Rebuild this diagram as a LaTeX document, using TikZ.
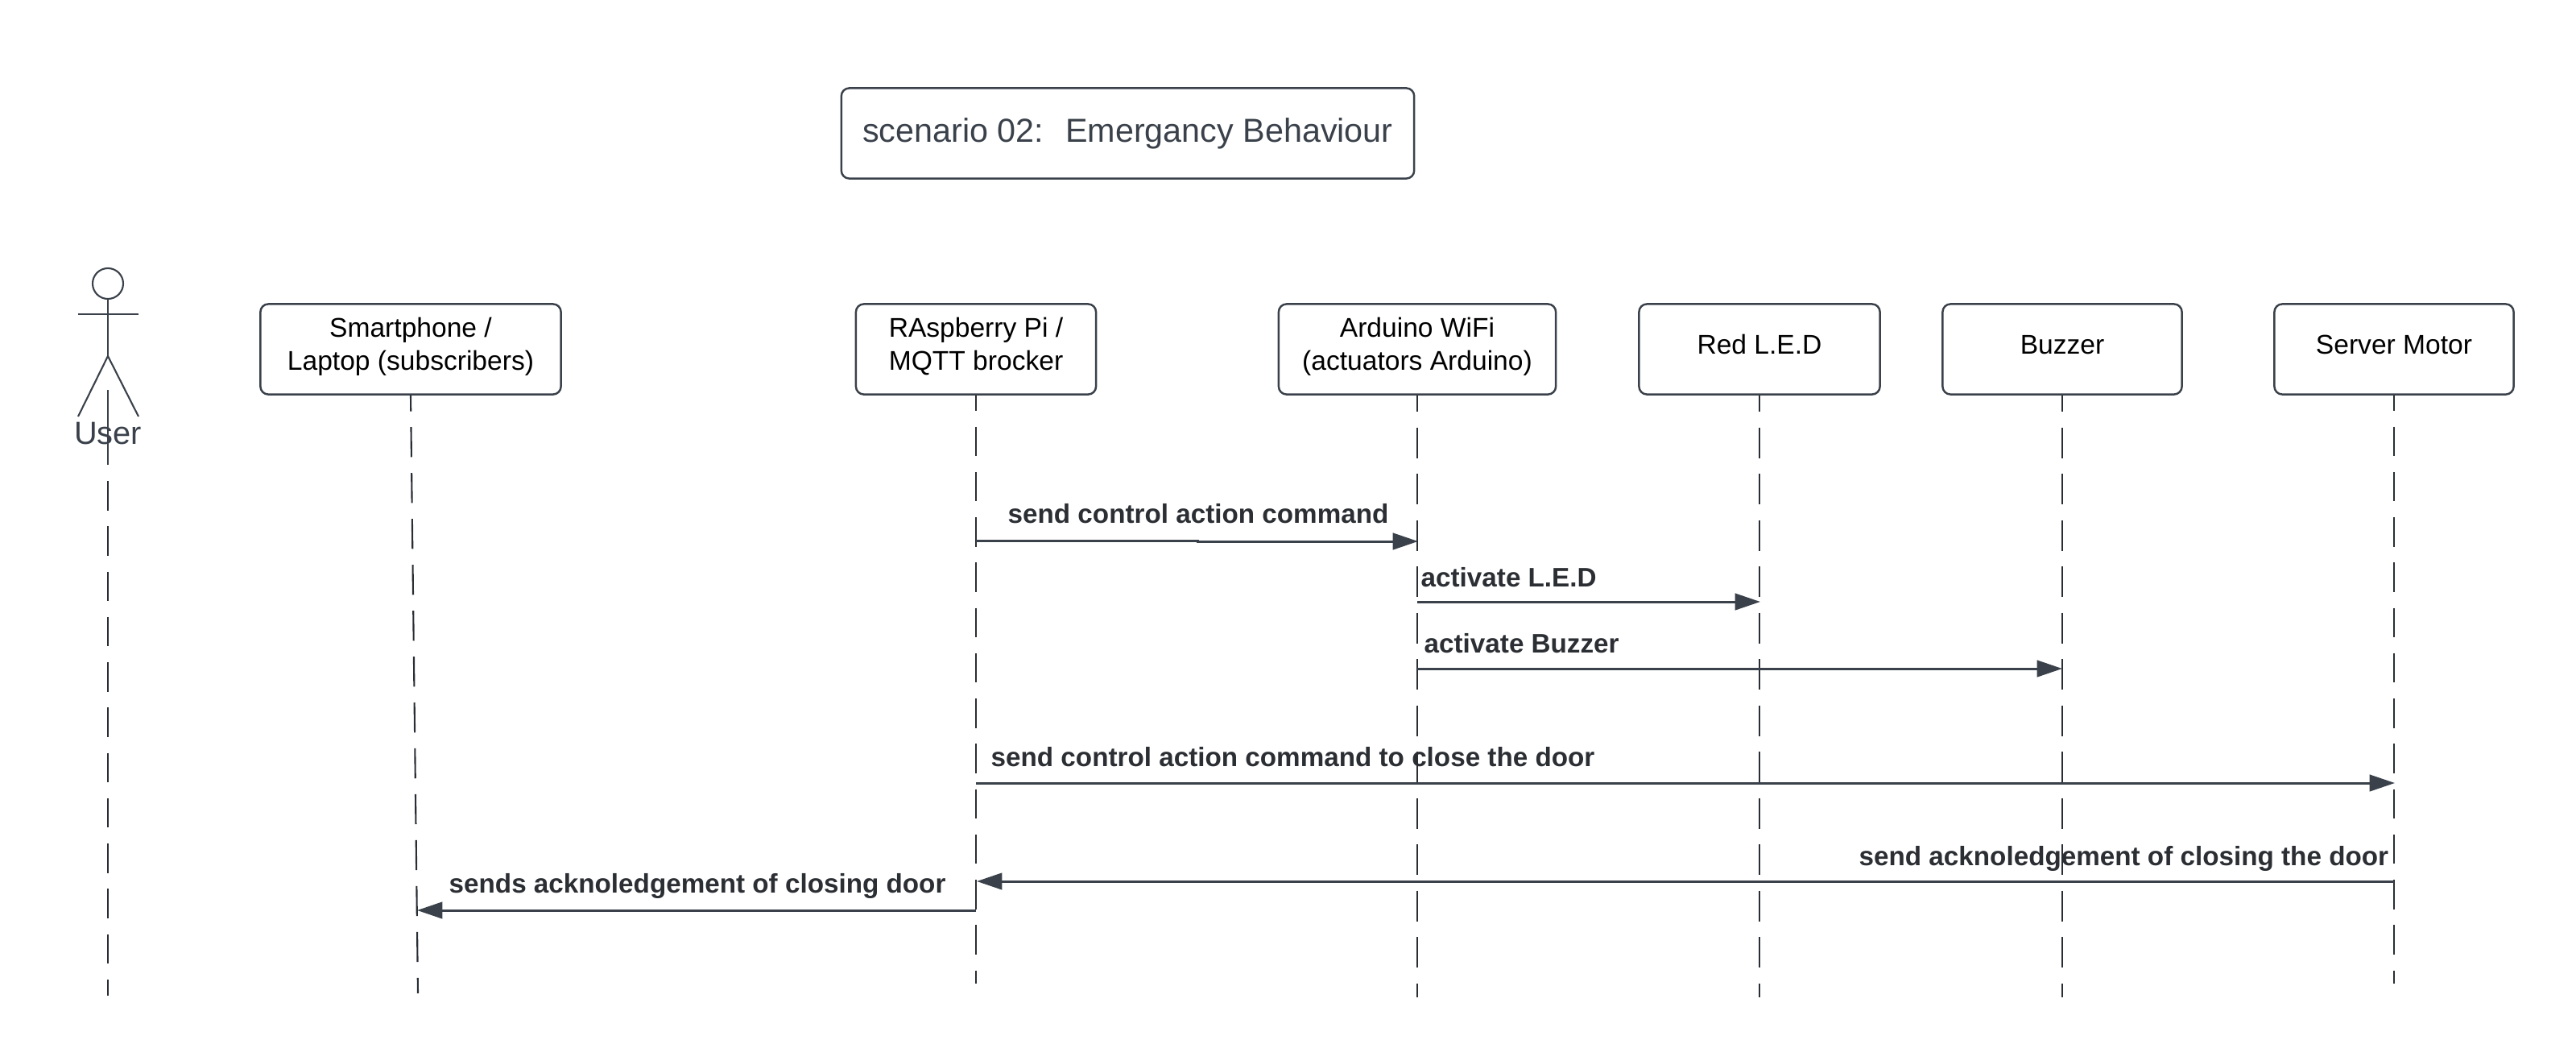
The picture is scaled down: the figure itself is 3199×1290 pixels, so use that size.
\documentclass[tikz,border=0pt]{standalone}
\usepackage{fontspec}
\setmainfont{Liberation Sans}
\usetikzlibrary{arrows.meta}
\definecolor{umlgray}{HTML}{3A414A}
\definecolor{labelgray}{HTML}{2B2E33}
\tikzset{
  lifebox/.style={draw=umlgray, line width=0.7pt, rounded corners=2.8pt, inner sep=0pt, minimum height=1.12cm,
    text height=17.6pt, text depth=14.3pt, align=center, font=\fontsize{9.55}{11.66}\selectfont},
  lifeline/.style={draw=umlgray!70!black, line width=0.6pt, dash pattern=on #1 off 5.6pt, dash phase=5pt},
  lifeline/.default=10.75pt,
  msg/.style={draw=umlgray, line width=0.85pt, -{Triangle[length=8.9pt,width=5.8pt]}},
  msglabel/.style={anchor=base west, inner sep=0pt, text=labelgray, font=\fontsize{9.45}{11.66}\bfseries\selectfont}
}
\begin{document}
\begin{tikzpicture}[x=0.01cm,y=-0.01cm]
  \useasboundingbox (0,0) rectangle (3199,1290);
  % Title
  \node[lifebox, minimum width=7.11cm, text=umlgray, text height=19pt, text depth=12.9pt,
    font=\fontsize{11.75}{14}\selectfont] (title) at (1400.5,165.5) {scenario 02:~ Emergancy Behaviour};
  % Actor
  \node[circle, draw=umlgray, line width=0.6pt, inner sep=0pt, minimum size=0.38cm] (userhead) at (134,352) {};
  \coordinate (shoulderL) at (97,390);
  \coordinate (shoulderR) at (172,390);
  \coordinate (hip) at (134,442);
  \coordinate (footL) at (97,517);
  \coordinate (footR) at (172,517);
  \draw[umlgray, line width=0.6pt] (userhead.south) -- (hip);
  \draw[umlgray, line width=0.6pt] (shoulderL) -- (shoulderR);
  \draw[umlgray, line width=0.6pt] (footL) -- (hip) -- (footR);
  \node[anchor=base, inner sep=0pt, text=umlgray, font=\fontsize{11.3}{13}\selectfont] (user) at (134,551) {User};
  % Boxes
  \node[lifebox, minimum width=3.73cm, text height=23.4pt, text depth=8.5pt] (phone) at (510,433.5) {Smartphone /\\Laptop (subscribers)};
  \node[lifebox, minimum width=2.98cm, text height=23.4pt, text depth=8.5pt] (pi) at (1212,433.5) {RAspberry Pi /\\MQTT brocker};
  \node[lifebox, minimum width=3.44cm, text height=23.4pt, text depth=8.5pt] (arduino) at (1760,433.5) {Arduino WiFi\\(actuators Arduino)};
  \node[lifebox, minimum width=2.99cm] (led) at (2185,433.5) {Red L.E.D};
  \node[lifebox, minimum width=2.97cm] (buzzer) at (2561,433.5) {Buzzer};
  \node[lifebox, minimum width=2.97cm] (servo) at (2973,433.5) {Server Motor};
  % Lifelines
  \coordinate (userTop) at (134,484);
  \coordinate (userGap) at (134,577);
  \coordinate (userMid) at (134,597);
  \coordinate (userEnd) at (134,1236);
  \coordinate (phoneEnd) at (519,1233);
  \coordinate (piEnd) at (1212,1221);
  \coordinate (arduinoEnd) at (1760,1238);
  \coordinate (ledEnd) at (2185,1238);
  \coordinate (buzzerEnd) at (2561,1238);
  \coordinate (servoEnd) at (2973,1221);
  \draw[umlgray, line width=0.6pt] (userTop) -- (userGap);
  \draw[lifeline=10.4pt, dash phase=0pt] (userMid) -- (userEnd);
  \draw[lifeline=10.6pt] (phone.south) -- (phoneEnd);
  \draw[lifeline=10.4pt] (pi.south) -- (piEnd);
  \draw[lifeline] (arduino.south) -- (arduinoEnd);
  \draw[lifeline] (led.south) -- (ledEnd);
  \draw[lifeline] (buzzer.south) -- (buzzerEnd);
  \draw[lifeline=10.4pt] (servo.south) -- (servoEnd);
  % Messages
  \coordinate (m1a) at (1212,671);
  \coordinate (m1b) at (1487,671);
  \coordinate (m1c) at (1487,672);
  \coordinate (m1d) at (1761,672);
  \draw[msg] (m1a) -- (m1b) -- (m1c) -- (m1d);
  \node[msglabel] (m1) at (1251,649) {send control action command};
  \coordinate (m2a) at (1760,747);
  \coordinate (m2b) at (2186,747);
  \draw[msg] (m2a) -- (m2b);
  \node[msglabel] (m2) at (1764,728) {activate L.E.D};
  \coordinate (m3a) at (1760,830);
  \coordinate (m3b) at (2561,830);
  \draw[msg] (m3a) -- (m3b);
  \node[msglabel] (m3) at (1768,810) {activate Buzzer};
  \coordinate (m4a) at (1212,972);
  \coordinate (m4b) at (2974,972);
  \draw[msg] (m4a) -- (m4b);
  \node[msglabel] (m4) at (1230,951) {send control action command to close the door};
  \coordinate (m5a) at (2973,1094);
  \coordinate (m5b) at (1213,1094);
  \draw[msg] (m5a) -- (m5b);
  \node[msglabel] (m5) at (2308,1074) {send acknoledgement of closing the door};
  \coordinate (m6a) at (1212,1130);
  \coordinate (m6b) at (518,1130);
  \draw[msg] (m6a) -- (m6b);
  \node[msglabel] (m6) at (557,1108) {sends acknoledgement of closing door};
\end{tikzpicture}
\end{document}
